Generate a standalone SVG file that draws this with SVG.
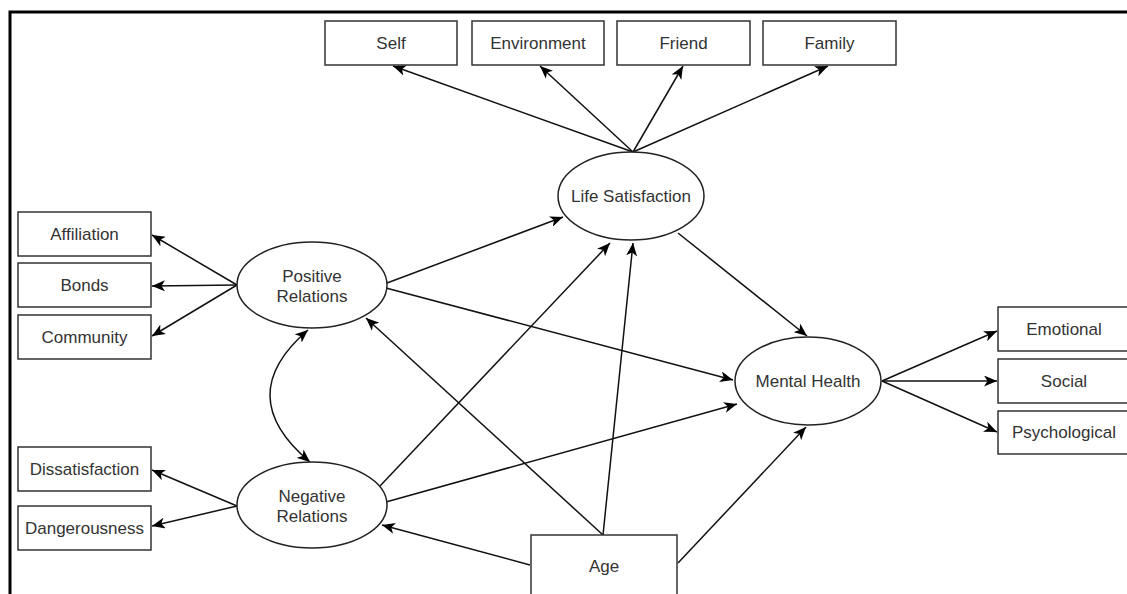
<svg xmlns="http://www.w3.org/2000/svg" width="1127" height="594" viewBox="0 0 1127 594">
<defs>
<marker id="arr" viewBox="0 0 13 11" refX="13" refY="5.5" markerWidth="13" markerHeight="11" orient="auto-start-reverse" markerUnits="userSpaceOnUse">
<path d="M0,0 L13,5.5 L0,11 L3.5,5.5 z" fill="#000"/>
</marker>
</defs>
<style>
.box{fill:#fff;stroke:#333;stroke-width:1.5}
.ell{fill:#fff;stroke:#222;stroke-width:1.5}
.t{font-family:"Liberation Sans",Arial,sans-serif;font-size:17px;fill:#333;text-anchor:middle}
.c line,.c path{stroke:#111;stroke-width:1.5;fill:none;marker-end:url(#arr)}
</style>
<rect width="1127" height="594" fill="#fff"/>
<path d="M10,594 V12 H1127" fill="none" stroke="#000" stroke-width="3"/>

<g class="c" id="connectors">
<line x1="633" y1="152" x2="393" y2="66"/>
<line x1="633" y1="152" x2="540" y2="66"/>
<line x1="633" y1="152" x2="683" y2="66"/>
<line x1="633" y1="152" x2="828" y2="66"/>
<line x1="237" y1="285" x2="152" y2="235"/>
<line x1="237" y1="285" x2="152" y2="286"/>
<line x1="237" y1="285" x2="152" y2="336"/>
<line x1="237" y1="506" x2="152" y2="470"/>
<line x1="237" y1="506" x2="152" y2="526"/>
<line x1="882" y1="381" x2="997" y2="331"/>
<line x1="882" y1="381" x2="997" y2="381"/>
<line x1="882" y1="381" x2="997" y2="432"/>
<line x1="387" y1="283" x2="563" y2="217"/>
<line x1="386" y1="288" x2="733" y2="380"/>
<line x1="678" y1="233" x2="807" y2="336"/>
<line x1="380" y1="486" x2="610" y2="243"/>
<line x1="603" y1="535" x2="633" y2="243"/>
<line x1="603" y1="535" x2="366" y2="318"/>
<line x1="386" y1="502" x2="737" y2="404"/>
<line x1="530" y1="565" x2="382" y2="525"/>
<line x1="678" y1="563" x2="806" y2="427"/>
<path d="M308,330 Q231,396 310,462" style="marker-start:url(#arr)"/>
</g>

<g id="self"><rect class="box" x="325" y="21" width="132" height="44"/><text class="t" x="391" y="49">Self</text></g>
<g id="environment"><rect class="box" x="472" y="21" width="132" height="44"/><text class="t" x="538" y="49">Environment</text></g>
<g id="friend"><rect class="box" x="617" y="21" width="133" height="44"/><text class="t" x="683.5" y="49">Friend</text></g>
<g id="family"><rect class="box" x="763" y="21" width="133" height="44"/><text class="t" x="829.5" y="49">Family</text></g>

<g id="affiliation"><rect class="box" x="18" y="212" width="133" height="44"/><text class="t" x="84.5" y="240">Affiliation</text></g>
<g id="bonds"><rect class="box" x="18" y="263" width="133" height="44"/><text class="t" x="84.5" y="291">Bonds</text></g>
<g id="community"><rect class="box" x="18" y="315" width="133" height="44"/><text class="t" x="84.5" y="343">Community</text></g>
<g id="dissatisfaction"><rect class="box" x="18" y="447" width="133" height="44"/><text class="t" x="84.5" y="475">Dissatisfaction</text></g>
<g id="dangerousness"><rect class="box" x="18" y="506" width="133" height="44"/><text class="t" x="84.5" y="534">Dangerousness</text></g>

<g id="emotional"><rect class="box" x="998" y="307" width="134" height="44"/><text class="t" x="1064" y="335">Emotional</text></g>
<g id="social"><rect class="box" x="998" y="359" width="134" height="44"/><text class="t" x="1064" y="387">Social</text></g>
<g id="psychological"><rect class="box" x="998" y="411" width="134" height="43"/><text class="t" x="1064" y="438">Psychological</text></g>

<g id="age"><rect class="box" x="531" y="535" width="146" height="70"/><text class="t" x="604" y="572">Age</text></g>

<g id="life-satisfaction"><ellipse class="ell" cx="631" cy="196" rx="73" ry="44"/><text class="t" x="631" y="202">Life Satisfaction</text></g>
<g id="positive-relations"><ellipse class="ell" cx="312" cy="285" rx="75" ry="43"/><text class="t" x="312" y="282">Positive</text><text class="t" x="312" y="302">Relations</text></g>
<g id="negative-relations"><ellipse class="ell" cx="312" cy="505" rx="75" ry="43"/><text class="t" x="312" y="502">Negative</text><text class="t" x="312" y="522">Relations</text></g>
<g id="mental-health"><ellipse class="ell" cx="808" cy="381" rx="73" ry="44"/><text class="t" x="808" y="387">Mental Health</text></g>
</svg>
